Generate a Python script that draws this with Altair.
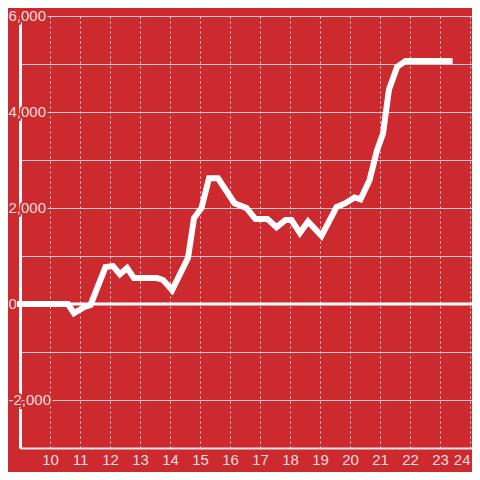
import altair as alt
import pandas as pd

# ---- data ----
hours = [9.0, 10.6, 10.8, 11.15, 11.35, 11.85, 12.1, 12.33, 12.57, 12.8, 13.57, 13.77,
         14.07, 14.6, 14.8, 15.05, 15.3, 15.6, 16.15, 16.55, 16.85, 17.25, 17.55, 17.85,
         18.05, 18.33, 18.6, 19.05, 19.55, 19.85, 20.15, 20.35, 20.65, 20.9, 21.1, 21.3,
         21.57, 21.85, 23.32]
values = [0, 0, -190, -60, -20, 770, 790, 620, 750, 540, 540, 500,
          290, 960, 1790, 2000, 2620, 2620, 2100, 2000, 1770, 1770, 1600, 1750,
          1750, 1480, 1720, 1420, 2020, 2100, 2220, 2180, 2580, 3200, 3550, 4470,
          4940, 5060, 5060]

x_ticks = list(range(10, 25))
y_grid = list(range(-3000, 6001, 1000))
y_label_values = [-2000, 0, 2000, 4000, 6000]
y_label_text = ["-2,000", "0", "2,000", "4,000", "6,000"]

BG = "#cc2a2f"
LABEL = "#f3dede"
FONT = "Liberation Sans"

df = pd.DataFrame({"hour": hours, "value": values})
labels_df = pd.DataFrame({"value": y_label_values, "txt": y_label_text})
zero_df = pd.DataFrame({"value": [0]})

x_scale = alt.Scale(domain=[9, 9 + 452 / 30], nice=False, zero=False)
y_scale = alt.Scale(domain=[-3000, 6000], nice=False, zero=False)

y_axis = alt.Axis(values=y_grid, grid=True, gridColor="#cfcfcf", gridWidth=1,
                  domainColor="white", domainWidth=3, ticks=False, labels=False,
                  title=None)
Y = alt.Y("value:Q", scale=y_scale, axis=y_axis)

line = alt.Chart(df).mark_line(color="white", strokeWidth=6, strokeCap="square").encode(
    x=alt.X("hour:Q", scale=x_scale,
            axis=alt.Axis(values=x_ticks, grid=True, gridDash=[2, 3], gridColor="#ead6d6",
                          gridWidth=1, domainColor="#e8e8e8", domainWidth=2, ticks=False,
                          labelFontSize=15, labelColor=LABEL, labelFont=FONT,
                          labelPadding=4, labelFlush=False, title=None,
                          labelAlign=alt.expr("datum.value == 24 ? 'right' : 'center'"))),
    y=Y,
)

zero = alt.Chart(zero_df).mark_rule(color="white", strokeWidth=3).encode(y=Y)

halo = alt.Chart(labels_df).mark_text(
    align="left", baseline="middle", fontSize=15, font=FONT,
    fill=BG, stroke=BG, strokeWidth=4,
).encode(x=alt.value(-11.5), y=Y, text="txt:N")

ylabels = alt.Chart(labels_df).mark_text(
    align="left", baseline="middle", fontSize=15, font=FONT, color=LABEL,
).encode(x=alt.value(-11.5), y=Y, text="txt:N")

chart = alt.layer(zero, halo, ylabels, line).properties(
    width=452, height=432,
    padding={"left": 12, "top": 8, "right": 0, "bottom": 24},
    autosize=alt.AutoSizeParams(type="none"),
).configure(background=BG).configure_view(stroke=None)

chart.save("out.html", embed_options={"renderer": "svg", "actions": False})
